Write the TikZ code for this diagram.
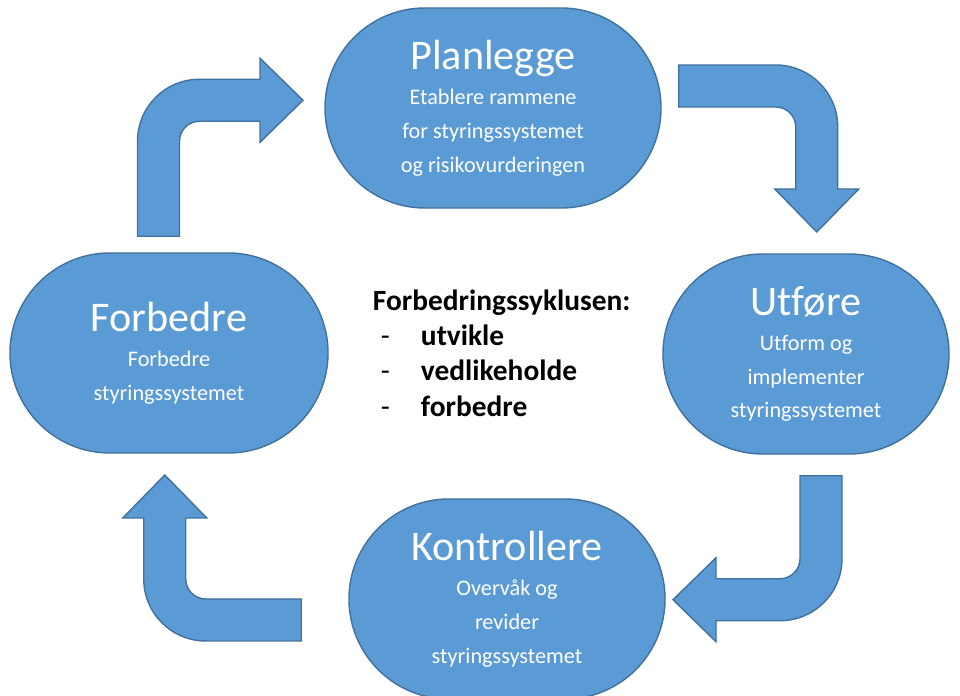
\documentclass[tikz,border=0pt]{standalone}
\usepackage{fontspec}
\setmainfont{Carlito}[Ligatures=NoCommon]
\usetikzlibrary{shapes.misc, calc}

\definecolor{cycleblue}{HTML}{5B9BD5}
\definecolor{cycleline}{HTML}{41719C}

\newcommand{\phasename}[1]{{\fontsize{30}{32}\selectfont #1}}

\tikzset{
    pics/bentarrow/.style 2 args={code={
        \filldraw[fill=cycleblue, draw=cycleline, line width=1pt]
        (-21,0) -- (-21,#1-41) arc[start angle=180, end angle=90, radius=62]
        -- (#2-43,#1+21) -- (#2-43,#1+42) -- (#2,#1) -- (#2-43,#1-42) -- (#2-43,#1-21)
        -- (41,#1-21) arc[start angle=90, end angle=180, radius=20]
        -- (21,0) -- cycle;
    }}
}

\begin{document}
\begin{tikzpicture}[
        x=0.025cm, y=0.025cm,
        phase/.style={rounded rectangle, draw=cycleline, fill=cycleblue, line width=1pt,
            text=white, align=center, minimum height=5cm, inner sep=0pt,
            font=\fontsize{15.8}{24}\selectfont}
    ]
    \clip (0,0) rectangle (960,696);
    \fill[white] (0,0) rectangle (960,696);

    %% ---- Phases ----
    \node[phase, minimum width=8.4cm] (planlegge) at (493,588)
    {\phasename{Planlegge}\\[1pt]
        Etablere rammene\\ for styringssystemet\\ og risikovurderingen};
    \node[phase, minimum width=7.95cm] (forbedre) at (169,343)
    {\phasename{Forbedre}\\[1pt]
        Forbedre\\ styringssystemet};
    \node[phase, minimum width=7.15cm] (utfore) at (806,342)
    {\phasename{Utføre}\\[1pt]
        Utform og\\ implementer\\ styringssystemet};
    \node[phase, minimum width=7.9cm] (kontrollere) at (507,97)
    {\phasename{Kontrollere}\\[1pt]
        Overvåk og\\ revider\\ styringssystemet};

    %% ---- Cycle text ----
    \node[anchor=north west, align=left, font=\fontsize{20.9}{25}\selectfont] (syklus) at (368,411) {
        \textbf{Forbedringssyklusen:}\\
        \makebox[1.2cm][l]{\hspace{0.2cm}-}\textbf{utvikle}\\
        \makebox[1.2cm][l]{\hspace{0.2cm}-}\textbf{vedlikeholde}\\
        \makebox[1.2cm][l]{\hspace{0.2cm}-}\textbf{forbedre}
    };

    %% ---- Bent arrows between phases ----
    \pic at ($(forbedre.north)+(-10.5,16)$) {bentarrow={136}{144.5}};
    \pic[rotate=-90] at ($(planlegge.east)+(17,22)$) {bentarrow={138}{146}};
    \pic[rotate=180] at ($(utfore.south)+(15,-21)$) {bentarrow={124}{148}};
    \pic[rotate=90] at ($(kontrollere.west)+(-47,-21)$) {bentarrow={136.5}{145}};

\end{tikzpicture}
\end{document}
